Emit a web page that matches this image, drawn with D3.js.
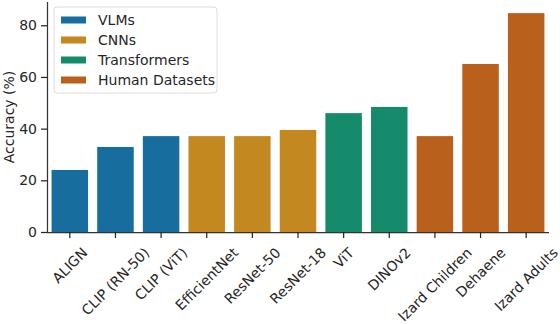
<!DOCTYPE html>
<html>
<head>
<meta charset="utf-8">
<script src="https://cdn.jsdelivr.net/npm/d3@7"></script>
<style>
  body { margin: 0; background: #fff; }
  text { font-family: 'DejaVu Sans', sans-serif; fill: #262626; }
</style>
</head>
<body>
<svg id="chart" width="560" height="324"></svg>
<script>
// data
const models = ['ALIGN', 'CLIP (RN-50)', 'CLIP (ViT)', 'EfficientNet', 'ResNet-50', 'ResNet-18',
                'ViT', 'DINOv2', 'Izard Children', 'Dehaene', 'Izard Adults']
const accuracy = [24.0, 32.9, 37.1, 37.1, 37.1, 39.5, 46.0, 48.4, 37.1, 65.0, 84.7]
const groups = ['VLMs', 'VLMs', 'VLMs', 'CNNs', 'CNNs', 'CNNs',
                'Transformers', 'Transformers', 'Human Datasets', 'Human Datasets', 'Human Datasets']
const groupNames = ['VLMs', 'CNNs', 'Transformers', 'Human Datasets']
const groupColors = ['#176e9e', '#c48820', '#168b6c', '#b9601c']
const yTicks = [0, 20, 40, 60, 80]

const M = { top: 2, left: 47, bottom: 92, right: 11 }
const W = 560, H = 324
const width = W - M.left - M.right
const height = H - M.top - M.bottom
const FS = '14px'

const svg = d3.select('#chart')
const g = svg.append('g').attr('transform', 'translate(' + [M.left, M.top] + ')')

const x = d3.scaleBand().domain(models).range([0, width]).paddingInner(0.2).paddingOuter(0.1)
const y = d3.scaleLinear().domain([0, 89]).range([height, 0])
const color = d3.scaleOrdinal().domain(groupNames).range(groupColors)

// bars
g.selectAll('rect.bar')
  .data(models)
  .join('rect')
  .attr('class', 'bar')
  .attr('x', d => x(d))
  .attr('width', x.bandwidth())
  .attr('y', (d, i) => y(accuracy[i]))
  .attr('height', (d, i) => y(0) - y(accuracy[i]))
  .attr('fill', (d, i) => color(groups[i]))

// y axis
const yAxis = g.append('g')
  .call(d3.axisLeft(y).tickValues(yTicks).tickSize(6).tickPadding(4))
yAxis.selectAll('text').style('font-size', FS).attr('fill', '#262626')

// x axis, labels rotated 45deg with their bounding box centred under the tick (matplotlib style)
const xAxis = g.append('g')
  .attr('transform', 'translate(0,' + height + ')')
  .call(d3.axisBottom(x).tickSize(6).tickPadding(3))
xAxis.selectAll('text')
  .style('font-size', FS)
  .attr('fill', '#262626')
  .attr('text-anchor', 'middle')
  .attr('dy', '0.35em')
  .attr('y', 0).attr('x', 0)
  .each(function() {
    let w = this.getComputedTextLength()
    let h = 16
    let half = (w + h) / (2 * Math.SQRT2)
    d3.select(this).attr('transform', 'translate(0,' + (12.5 + half) + ') rotate(-45)')
  })

g.selectAll('.domain, .tick line').attr('stroke', '#262626').attr('stroke-width', 1.25)
g.selectAll('.domain').attr('stroke', '#333')
xAxis.select('.domain').attr('d', 'M0,0.5H' + width)
yAxis.select('.domain').attr('d', 'M0.5,0V' + height)

// y label
svg.append('text')
  .attr('transform', 'translate(14,' + (M.top + height / 2) + ') rotate(-90)')
  .attr('text-anchor', 'middle')
  .style('font-size', FS)
  .text('Accuracy (%)')

// legend
const lg = svg.append('g').attr('transform', 'translate(54,7)')
lg.append('rect')
  .attr('width', 163).attr('height', 86).attr('rx', 3)
  .attr('fill', '#fff').attr('fill-opacity', 0.8)
  .attr('stroke', '#dcdcdc')
const items = lg.selectAll('g.item').data(groupNames).join('g')
  .attr('class', 'item')
  .attr('transform', (d, i) => 'translate(7,' + (13 + i * 20) + ')')
items.append('rect')
  .attr('width', 25).attr('height', 7).attr('y', -3.5)
  .attr('fill', d => color(d))
items.append('text')
  .attr('x', 37).attr('dy', '0.35em')
  .style('font-size', FS)
  .text(d => d)
</script>
</body>
</html>
